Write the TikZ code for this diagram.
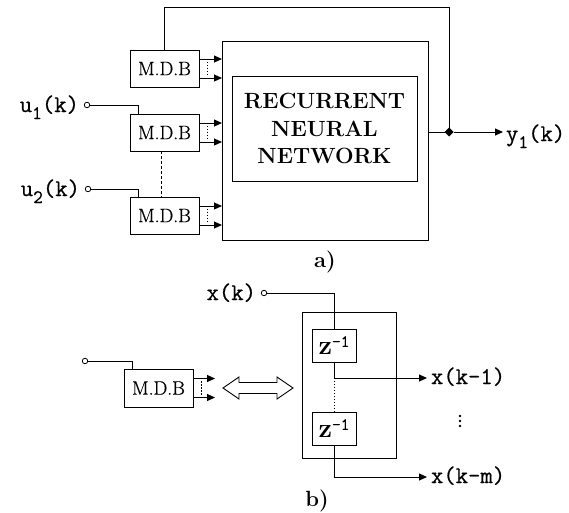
\documentclass[tikz,border=0pt]{standalone}
\usepackage{fontspec}
\newfontfamily\labelfont[FakeBold=0.6]{Latin Modern Mono}
\newfontfamily\boxfont[FakeBold=0.8]{Latin Modern Roman}
\usetikzlibrary{arrows.meta,shapes.geometric}

\begin{document}
\begin{tikzpicture}[x=1pt,y=-1pt,line width=1pt,
  every node/.style={inner sep=0pt,outer sep=0pt},
  mdb/.style={draw,minimum width=69pt,minimum height=37pt,font=\boxfont\fontsize{19.5}{19.5}\selectfont},
  port/.style={circle,draw,fill=white,minimum size=5.5pt,line width=0.8pt},
  sig/.style={font=\labelfont\fontsize{24}{24}\selectfont},
  tip/.style={-{Triangle[length=8pt,width=7pt]}},
  zbox/.style={draw,minimum width=44pt,minimum height=33pt},
  taps/.style={dash pattern=on 1.5pt off 1.5pt},
  caption/.style={font=\fontsize{22}{22}\selectfont\bfseries}]

\useasboundingbox (0,0) rectangle (569,512);

% ---------- a) recurrent network with delay blocks ----------
\node[mdb] (m1) at (164.5,68.5) {M.D.B};
\node[mdb] (m2) at (164.5,132.5) {M.D.B};
\node[mdb] (m3) at (164.5,215.5) {M.D.B};

\node[draw,minimum width=206pt,minimum height=199pt] (rnn) at (325,140.5) {};
\node[draw,minimum width=185pt,minimum height=105pt,align=center,
      font=\fontsize{22}{27.5}\selectfont\bfseries] (core) at (324.5,128.5)
      {RECURRENT\\NEURAL\\NETWORK};

\foreach \m in {m1,m2,m3} {
  \draw[tip] ([yshift=9.5pt]\m.east) -- ([yshift=9.5pt]\m.east -| rnn.west);
  \draw[tip] ([yshift=-9.5pt]\m.east) -- ([yshift=-9.5pt]\m.east -| rnn.west);
  \draw[taps] ([xshift=8pt,yshift=7pt]\m.east) -- ([xshift=8pt,yshift=-7pt]\m.east);
}

% inputs
\node[port] (u1p) at (87,105) {};
\node[sig,anchor=base east] (u1) at (79,112)
  {u\raisebox{-7pt}{\fontsize{19}{19}\selectfont 1}(k)};
\node[port] (u2p) at (88,189) {};
\node[sig,anchor=base east] (u2) at (80,196)
  {u\raisebox{-7pt}{\fontsize{19}{19}\selectfont 2}(k)};
\draw (u1p) -| ([xshift=8pt]m2.north west);
\draw (u2p) -| ([xshift=8pt]m3.north west);
\draw[dash pattern=on 3pt off 2pt] ([xshift=-3.5pt]m2.south) -- ([xshift=-3.5pt]m3.north);

% output and feedback
\node[diamond,fill,minimum size=9pt] (jd) at (449,132) {};
\coordinate (fb) at (449,7);
\node[sig,anchor=base west,inner xsep=3pt] (y1) at (503,141)
  {y\raisebox{-7pt}{\fontsize{19}{19}\selectfont 1}(k)};
\draw (rnn.east |- jd) -- (jd);
\draw[tip] (jd) -- (jd -| y1.west);
\draw (jd) -- (fb) -| (m1.north);

\node[caption] (la) at (325,262) {a)};

% ---------- b) delay block detail ----------
\node[port] (bp) at (85,361) {};
\node[mdb,minimum height=38pt] (mb) at (158.5,388) {M.D.B};
\draw (bp) -| ([xshift=8pt]mb.north west);
\draw[tip] ([yshift=9.5pt]mb.east) -- ++(22pt,0);
\draw[tip] ([yshift=-9.5pt]mb.east) -- ++(22pt,0);
\draw[taps] ([xshift=8pt,yshift=7pt]mb.east) -- ([xshift=8pt,yshift=-7pt]mb.east);

% equivalence arrow
\draw[line width=0.9pt,fill=white]
  (223,388) -- (239,377) -- (239,382.5) -- (277,382.5) -- (277,377) -- (293,388)
  -- (277,399) -- (277,393.5) -- (239,393.5) -- (239,399) -- cycle;

\node[draw,minimum width=94pt,minimum height=146pt] (dl) at (349,385) {};
\node[zbox] (z1) at (334,345.5)
  {{\fontsize{27}{27}\selectfont\bfseries z}\raisebox{8pt}{\labelfont\fontsize{17}{17}\selectfont -1}};
\node[zbox] (z2) at (334,428.5)
  {{\fontsize{27}{27}\selectfont\bfseries z}\raisebox{8pt}{\labelfont\fontsize{17}{17}\selectfont -1}};

\node[port] (xp) at (264,293) {};
\node[sig,anchor=base east] (xk) at (256,300) {x(k)};
\draw (xp) -| (z1.north);

\coordinate (br) at (334,378);
\coordinate (bm) at (334,477);
\node[sig,anchor=base west,inner xsep=4pt] (x1) at (427,384) {x(k-1)};
\node[sig,anchor=base west,inner xsep=4pt] (xm) at (427,483) {x(k-m)};
\draw (z1.south) -- (br);
\draw[dotted] (br) -- (z2.north);
\draw[tip] (br) -- (br -| x1.west);
\draw[tip] (z2.south) -- (bm) -- (bm -| xm.west);

\foreach \yy in {416,421,426} \fill (460,\yy) circle (1.4);

\node[caption] (lb) at (317,501) {b)};
\end{tikzpicture}
\end{document}
